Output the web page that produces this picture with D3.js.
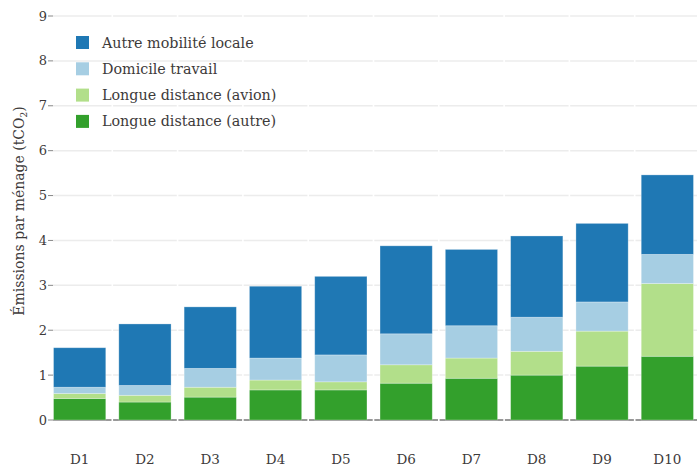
<!DOCTYPE html>
<html lang="fr">
<head>
<meta charset="UTF-8">
<script src="https://d3js.org/d3.v7.min.js"></script>
<style>
  body { margin: 0; background: #fff; }
</style>
</head>
<body>
<div id="chart"></div>
<script>
// deciles
var deciles = ["D1", "D2", "D3", "D4", "D5", "D6", "D7", "D8", "D9", "D10"];
// emissions per household (tCO2)
var longueAutre   = [0.48, 0.40, 0.51, 0.67, 0.67, 0.82, 0.93, 1.00, 1.20, 1.42];
var longueAvion   = [0.11, 0.15, 0.22, 0.22, 0.18, 0.41, 0.45, 0.53, 0.78, 1.62];
var domicile      = [0.14, 0.22, 0.42, 0.49, 0.60, 0.69, 0.72, 0.76, 0.65, 0.65];
var autreLocale   = [0.88, 1.37, 1.37, 1.60, 1.75, 1.96, 1.70, 1.81, 1.75, 1.77];
var yTicks = [0, 1, 2, 3, 4, 5, 6, 7, 8, 9];

var seriesNames = ["Longue distance (autre)", "Longue distance (avion)", "Domicile travail", "Autre mobilité locale"];
var seriesValues = [longueAutre, longueAvion, domicile, autreLocale];
var colors = ["#33a02c", "#b2df8a", "#a6cee3", "#1f78b4"];

var width = 697, height = 466;
var svg = d3.select("#chart").append("svg")
    .attr("width", width)
    .attr("height", height)
    .style("font-family", "\"DejaVu Serif\"")
    .attr("fill", "#3d3a3a");

var x = d3.scaleBand()
    .domain(deciles)
    .range([47, 700])
    .paddingInner(0.2)
    .paddingOuter(0.1);

var y = d3.scaleLinear()
    .domain([0, 9])
    .range([420, 16]);

// build rows for the stack
var rows = deciles.map(function(d, i) {
  var r = { decile: d };
  seriesNames.forEach(function(s, j) { r[s] = seriesValues[j][i]; });
  return r;
});
var stacked = d3.stack().keys(seriesNames)(rows);

var step = x.step(), halfGap = (step - x.bandwidth()) / 2;

// gridlines, drawn per category with a small gap between
var grid = svg.append("g");
yTicks.forEach(function(t) {
  grid.selectAll(null)
    .data(deciles)
    .enter()
    .append("line")
      .attr("x1", function(d, i) { return i === 0 ? 53 : x(d) - halfGap + 0.8; })
      .attr("x2", function(d) { return x(d) + x.bandwidth() + halfGap - 0.8; })
      .attr("y1", y(t))
      .attr("y2", y(t))
      .attr("stroke", t === 0 ? "#777" : "#ececec")
      .attr("stroke-width", 1.5);
});

// y tick marks and labels
var yAxis = svg.append("g");
yAxis.selectAll("line")
  .data(yTicks)
  .enter()
  .append("line")
    .attr("x1", 48).attr("x2", 53)
    .attr("y1", function(d) { return y(d); })
    .attr("y2", function(d) { return y(d); })
    .attr("stroke", "#888")
    .attr("stroke-width", 1);
yAxis.selectAll("text")
  .data(yTicks)
  .enter()
  .append("text")
    .attr("x", 47)
    .attr("y", function(d) { return y(d); })
    .attr("dy", "0.35em")
    .attr("text-anchor", "end")
    .style("font-size", "13px")
    .text(function(d) { return d; });

// bars
svg.append("g")
  .selectAll("g")
  .data(stacked)
  .enter()
  .append("g")
    .attr("fill", function(d, i) { return colors[i]; })
  .selectAll("rect")
  .data(function(d) { return d; })
  .enter()
  .append("rect")
    .attr("x", function(d) { return x(d.data.decile); })
    .attr("width", x.bandwidth())
    .attr("y", function(d) { return y(d[1]); })
    .attr("height", function(d) { return y(d[0]) - y(d[1]); })
    .attr("stroke", "#ffffff")
    .attr("stroke-opacity", 0.35)
    .attr("stroke-width", 0.8);

// x labels
svg.append("g")
  .selectAll("text")
  .data(deciles)
  .enter()
  .append("text")
    .attr("x", function(d) { return x(d) + x.bandwidth() / 2; })
    .attr("y", 464)
    .attr("text-anchor", "middle")
    .style("font-size", "13.5px")
    .text(function(d) { return d; });

// y axis title
svg.append("text")
    .attr("transform", "translate(24,211) rotate(-90)")
    .attr("text-anchor", "middle")
    .style("font-size", "14px")
    .html("Émissions par ménage (tCO<tspan dy='3' font-size='9px'>2</tspan><tspan dy='-3'>)</tspan>");

// legend, top entry is the top of the stack
var legendOrder = [3, 2, 1, 0];
var legend = svg.append("g");
var items = legend.selectAll("g")
  .data(legendOrder)
  .enter()
  .append("g")
    .attr("transform", function(d, i) { return "translate(76," + (36 + i * 26.3) + ")"; });
items.append("rect")
    .attr("width", 13).attr("height", 13)
    .attr("fill", function(d) { return colors[d]; });
items.append("text")
    .attr("x", 26)
    .attr("y", 6.5)
    .attr("dy", "0.35em")
    .style("font-size", "14.3px")
    .text(function(d) { return seriesNames[d]; });
</script>
</body>
</html>
